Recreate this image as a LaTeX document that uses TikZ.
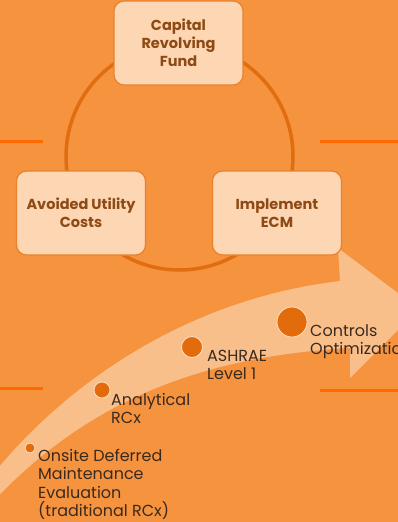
\documentclass[tikz,border=0pt]{standalone}
\usepackage{fontspec}
\setmainfont{Poppins}
\usepackage{xcolor}
\usepackage{tikz}
\usetikzlibrary{positioning}

\definecolor{bgorange}{HTML}{F5933F}
\definecolor{boxfill}{HTML}{FDD6B3}
\definecolor{boxline}{HTML}{E9822E}
\definecolor{boxtext}{HTML}{8E4A14}
\definecolor{ringline}{HTML}{E06E10}
\definecolor{arrowfill}{HTML}{F9BF8B}
\definecolor{dotfill}{HTML}{E26C0C}
\definecolor{dotring}{HTML}{FCE0C4}
\definecolor{labeltext}{HTML}{3A2A1E}
\definecolor{divline}{HTML}{FF6A00}

\tikzset{
	stagebox/.style={draw=boxline, line width=1.2pt, fill=boxfill,
		rounded corners=10pt, minimum width=129pt, minimum height=84pt,
		align=center, text=boxtext,
		font=\fontsize{14.5}{18}\selectfont\bfseries},
	milestone/.style={circle, fill=dotfill, draw=dotring,
		line width=0.8pt, inner sep=0pt},
	steplabel/.style={anchor=north west, align=left, inner sep=0pt,
		text=labeltext, font=\fontsize{16}{18.3}\selectfont},
	divider/.style={draw=divline, line width=3pt}
}

\begin{document}
\begin{tikzpicture}[x=1pt,y=-1pt]
			\useasboundingbox (0,0) rectangle (398,522);
			\clip (0,0) rectangle (398,522);
			\fill[bgorange] (0,0) rectangle (398,522);
			%
			\draw[divider] (0,141) -- (43,141);
			\draw[divider] (320,141) -- (398,141);
			\draw[divider] (0,388) -- (43,388);
			\draw[divider] (320,390) -- (398,390);
			%
			\coordinate (hub) at (179.5,156.5);
			\draw[ringline, line width=3.5pt] (hub) circle[radius=113.5];
			%
			\fill[arrowfill]
				(-10,478) .. controls (60,390) and (180,300) .. (340,281)
				-- (338,248) -- (419,309) -- (350,378) -- (350,348)
				.. controls (230,355) and (100,385) .. (-10,505) -- cycle;
			%
			\node[stagebox] (fund) at (178.5,43) {Capital\\Revolving\\Fund};
			\node[stagebox] (avoid) at (81,213) {Avoided Utility\\Costs};
			\node[stagebox] (ecm) at (277,213) {Implement\\ECM};
			%
			\node[milestone, minimum size=10pt] (onsite) at (30,448) {};
			\node[milestone, minimum size=16pt] (analytic) at (102,390) {};
			\node[milestone, minimum size=21pt] (ashrae) at (192,347) {};
			\node[milestone, minimum size=30pt] (controls) at (292,322) {};
			%
			\node[steplabel] (onsitetext) at (38,449)
				{Onsite Deferred\\Maintenance\\Evaluation\\(traditional RCx)};
			\node[steplabel] (analytictext) at (111,393) {Analytical\\RCx};
			\node[steplabel] (ashraetext) at (207,350) {ASHRAE\\Level 1};
			\node[steplabel] (controlstext) at (310,324) {Controls\\Optimization};
		\end{tikzpicture}
\end{document}
